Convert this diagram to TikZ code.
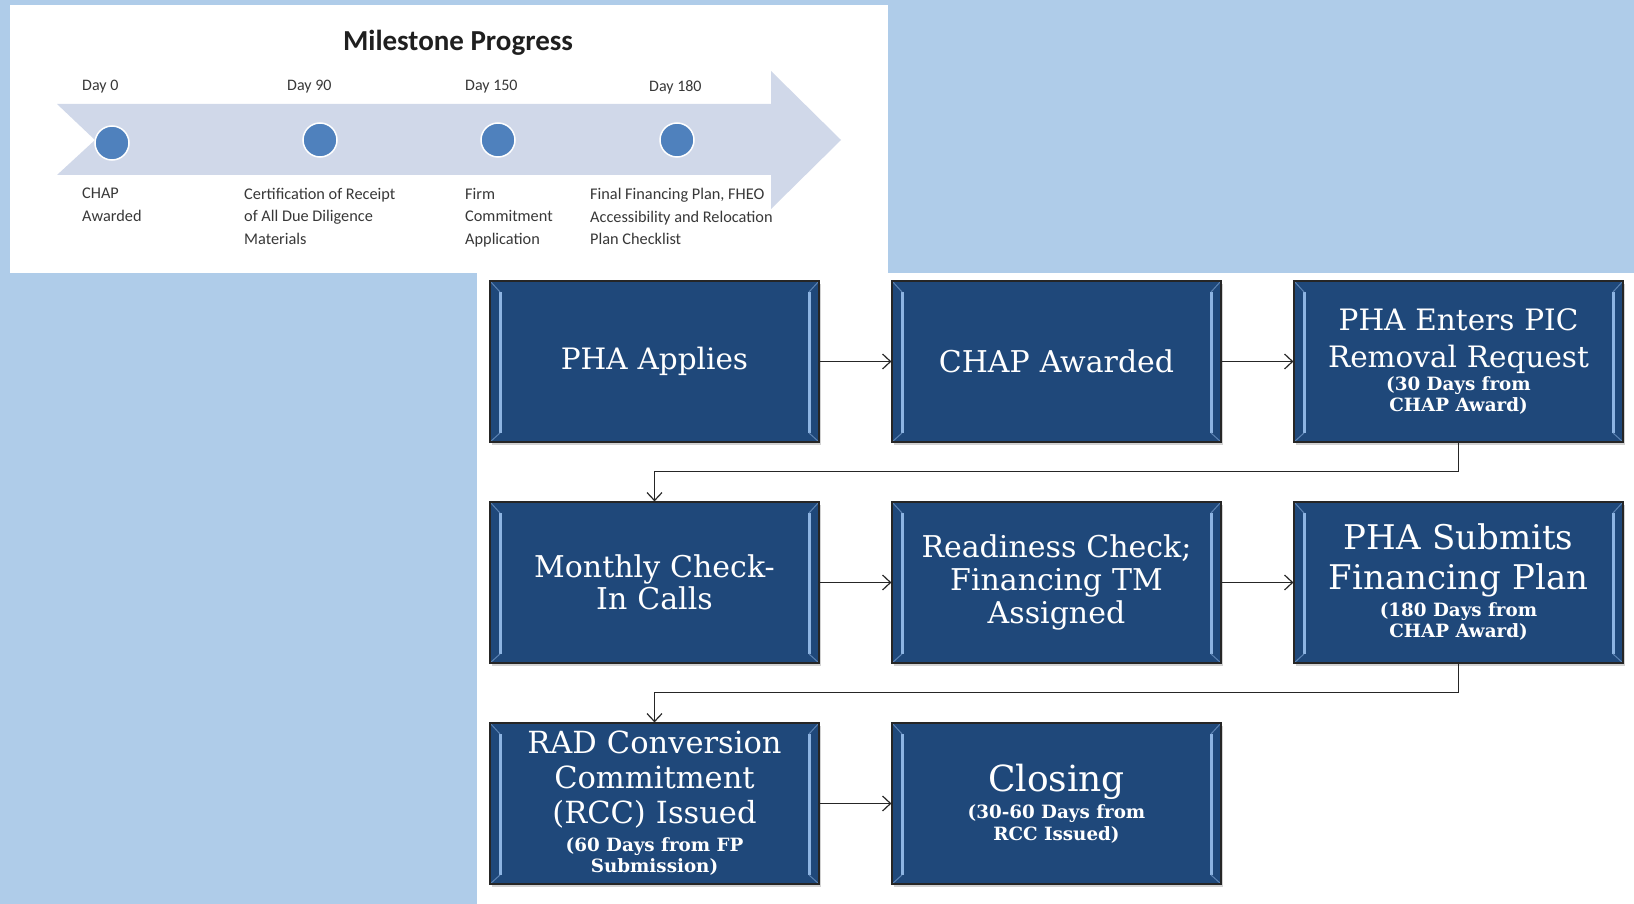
\documentclass[tikz,border=0pt]{standalone}
\usepackage{fontspec}
\setmainfont{DejaVu Serif}
\newfontfamily\calib{Carlito}
\usepackage{xcolor}
\usepackage{tikz}
\usetikzlibrary{shapes,arrows}
\usetikzlibrary{arrows.meta}
\usetikzlibrary{shadows}

\definecolor{skyback}{RGB}{175,204,233}
\definecolor{boxblue}{RGB}{31,72,122}
\definecolor{bevelblue}{RGB}{141,180,226}
\definecolor{bandgrey}{RGB}{208,216,233}
\definecolor{dotblue}{RGB}{79,129,189}

% small note lines inside the boxes
\newcommand{\notefont}{\fontsize{18.3}{21.5}\selectfont\bfseries\spaceskip=0pt\relax}

\begin{document}
\begin{tikzpicture}[x=1pt,y=1pt]
        \tikzstyle{block} = [rectangle, draw=black!85, line width=1.2pt, fill=boxblue, text=white, text width=312pt, execute at begin node=\centering, minimum width=329pt, minimum height=161pt, inner sep=0pt,
            drop shadow={shadow xshift=2pt, shadow yshift=-3pt, opacity=0.35},
            path picture={
                \draw[bevelblue, line width=3pt] ([shift={(10pt,-11pt)}]path picture bounding box.north west) -- ([shift={(10pt,9pt)}]path picture bounding box.south west);
                \draw[bevelblue, line width=3pt] ([shift={(-10pt,-11pt)}]path picture bounding box.north east) -- ([shift={(-10pt,9pt)}]path picture bounding box.south east);
                \draw[bevelblue!55!boxblue, line width=1pt] (path picture bounding box.north west) -- ++(10pt,-11pt);
                \draw[bevelblue!55!boxblue, line width=1pt] (path picture bounding box.north east) -- ++(-10pt,-11pt);
                \draw[bevelblue!55!boxblue, line width=1pt] (path picture bounding box.south west) -- ++(10pt,9pt);
                \draw[bevelblue!55!boxblue, line width=1pt] (path picture bounding box.south east) -- ++(-10pt,9pt);
            }]
        \tikzstyle{line} = [draw, line width=1.2pt, black!85, -{Straight Barb[length=8pt, width=15pt, line width=1.2pt]}]
        \tikzstyle{milestone} = [circle, fill=dotblue, draw=white, line width=1.5pt, minimum size=34pt, inner sep=0pt]
        \tikzstyle{daytag} = [anchor=west, inner sep=0pt, font=\calib\fontsize{16}{19}\selectfont, text=black!78]
        \tikzstyle{steptext} = [anchor=north west, inner sep=0pt, align=left, font=\calib\fontsize{16.3}{22.5}\selectfont, text=black!78]

        % backgrounds
        \useasboundingbox (0,0) rectangle (1634,-904);
        \fill[skyback] (0,0) rectangle (1634,-904);
        \fill[white] (10,-5) rectangle (888,-273);
        \fill[white] (477,-273) rectangle (1634,-904);

        % milestone timeline
        \fill[bandgrey] (57,-104) -- (771,-104) -- (771,-71) -- (841,-140) -- (771,-209) -- (771,-175) -- (57,-175) -- (95,-140) -- cycle;
        \node[font=\calib\bfseries\fontsize{29}{34}\selectfont, text=black!88] (title) at (458,-43) {Milestone Progress};

        \node [daytag] (day0) at (82,-87) {Day 0};
        \node [daytag] (day90) at (287,-87) {Day 90};
        \node [daytag] (day150) at (465,-87) {Day 150};
        \node [daytag] (day180) at (649,-87) {Day 180};

        \node [milestone] (dot0) at (112,-143) {};
        \node [milestone] (dot90) at (320,-140) {};
        \node [milestone] (dot150) at (498,-140) {};
        \node [milestone] (dot180) at (677,-140) {};

        \node [steptext] (chap) at (82,-188) {CHAP\\Awarded};
        \node [steptext] (certif) at (244,-188) {Certification of Receipt\\of All Due Diligence\\Materials};
        \node [steptext] (firm) at (465,-188) {Firm\\Commitment\\Application};
        \node [steptext] (final) at (590,-188) {Final Financing Plan, FHEO\\Accessibility and Relocation\\Plan Checklist};

        % process boxes
        \node [block, font=\fontsize{29.5}{34}\selectfont] (applies) at (654.5,-361.5) {PHA Applies};
        \node [block, right of=applies, node distance=402pt, font=\fontsize{30}{36}\selectfont] (awarded) {CHAP Awarded};
        \node [block, right of=awarded, node distance=402pt, font=\fontsize{29.5}{37}\selectfont] (enters) {PHA Enters PIC\par Removal Request\par\vspace{1.5pt}\notefont (30 Days from\par CHAP Award)\par};
        \node [block, below of=applies, node distance=221pt, font=\fontsize{30}{32}\selectfont] (monthly) {Monthly Check-\\In Calls};
        \node [block, right of=monthly, node distance=402pt, font=\fontsize{30}{33}\selectfont] (readiness) {Readiness Check;\\Financing TM\\Assigned};
        \node [block, right of=readiness, node distance=402pt, font=\fontsize{34}{40}\selectfont] (submits) {PHA Submits\par Financing Plan\par\vspace{5pt}\notefont (180 Days from\par CHAP Award)\par};
        \node [block, below of=monthly, node distance=221pt, font=\fontsize{30.5}{35}\selectfont] (rad) {RAD Conversion\par Commitment\par (RCC) Issued\par\vspace{6pt}\notefont (60 Days from FP\par Submission)\par};
        \node [block, right of=rad, node distance=402pt, font=\fontsize{36}{40}\selectfont] (closing) {Closing\par\vspace{5pt}\notefont (30-60 Days from\par RCC Issued)\par};

        \path [line] (applies) -- (awarded);
        \path [line] (awarded) -- (enters);
        \path [line] (enters.south) -- ++(0,-29) -| (monthly.north);
        \path [line] (monthly) -- (readiness);
        \path [line] (readiness) -- (submits);
        \path [line] (submits.south) -- ++(0,-29) -| (rad.north);
        \path [line] (rad) -- (closing);
    \end{tikzpicture}
\end{document}
